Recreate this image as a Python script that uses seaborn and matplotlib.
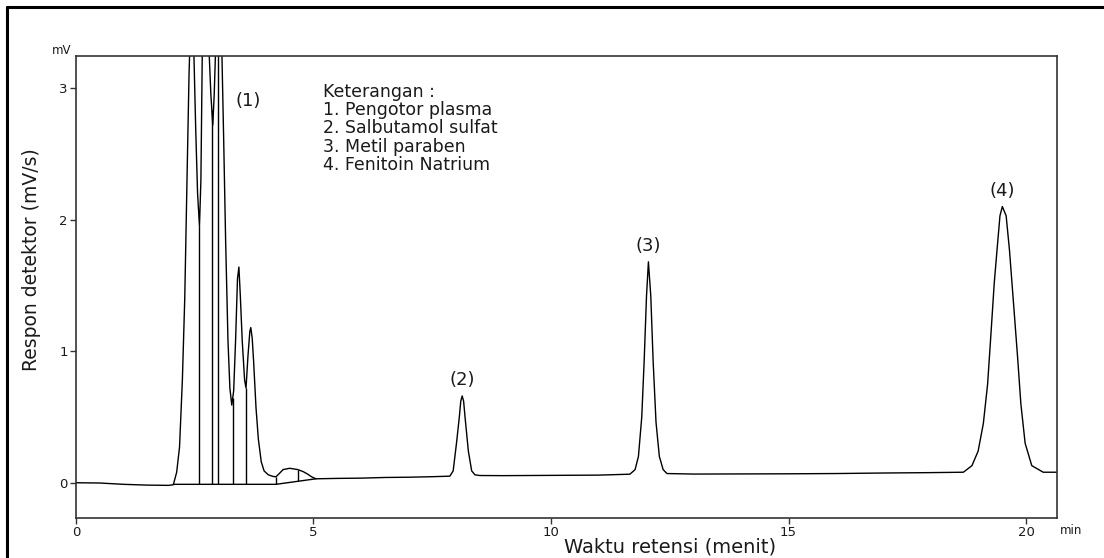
import numpy as np
import pandas as pd
import seaborn as sns
import matplotlib.pyplot as plt
from matplotlib.lines import Line2D

# chromatogram trace (time in min, detector signal in mV)
time_min = [0.0, 0.5, 1.0, 1.5, 1.95, 2.05, 2.12, 2.18, 2.24, 2.29, 2.34, 2.38,
            2.42, 2.45, 2.48, 2.52, 2.56, 2.60, 2.63, 2.66, 2.72, 2.80, 2.84, 2.88,
            2.91, 2.94, 3.00, 3.07, 3.11, 3.15, 3.20, 3.24, 3.28, 3.32, 3.36, 3.40,
            3.43, 3.46, 3.50, 3.55, 3.58, 3.62, 3.66, 3.68, 3.71, 3.74, 3.79, 3.84,
            3.90, 3.96, 4.05, 4.15, 4.21, 4.28, 4.36, 4.50, 4.67, 4.78, 4.88, 4.96,
            5.05, 5.5, 6.0, 6.5, 7.0, 7.5, 7.87, 7.94, 8.01, 8.07, 8.10, 8.13,
            8.16, 8.19, 8.26, 8.33, 8.40, 8.50, 9.0, 10.0, 11.0, 11.66, 11.77, 11.84,
            11.91, 11.96, 12.01, 12.05, 12.10, 12.15, 12.21, 12.28, 12.36, 12.44, 13.0, 14.0,
            15.0, 16.0, 17.0, 18.0, 18.68, 18.86, 18.99, 19.10, 19.19, 19.26, 19.33, 19.40,
            19.45, 19.50, 19.58, 19.65, 19.73, 19.82, 19.89, 19.98, 20.12, 20.36, 20.65]
signal_mv = [0.0, -0.002, -0.012, -0.018, -0.02, -0.015, 0.08, 0.27, 0.78, 1.40, 2.35, 3.10,
             3.60, 3.75, 3.30, 2.70, 2.20, 1.95, 2.30, 3.30, 3.70, 3.30, 2.95, 2.72,
             2.95, 3.30, 3.80, 3.30, 2.60, 1.85, 1.08, 0.72, 0.59, 0.70, 1.08, 1.55,
             1.64, 1.42, 1.08, 0.78, 0.72, 0.96, 1.15, 1.18, 1.10, 0.92, 0.57, 0.33,
             0.16, 0.09, 0.06, 0.048, 0.045, 0.07, 0.10, 0.11, 0.10, 0.085, 0.065, 0.045,
             0.03, 0.033, 0.035, 0.04, 0.042, 0.046, 0.05, 0.09, 0.30, 0.50, 0.62, 0.66,
             0.62, 0.50, 0.24, 0.09, 0.06, 0.055, 0.054, 0.056, 0.058, 0.065, 0.10, 0.20,
             0.50, 0.92, 1.42, 1.68, 1.42, 0.92, 0.46, 0.20, 0.10, 0.07, 0.066, 0.067,
             0.068, 0.070, 0.074, 0.077, 0.08, 0.13, 0.24, 0.45, 0.75, 1.13, 1.52, 1.82,
             2.03, 2.10, 2.03, 1.77, 1.39, 0.96, 0.60, 0.30, 0.13, 0.08, 0.08]

# integration marks under the plasma cluster
drop_times = [2.60, 2.86, 3.00, 3.30, 3.58, 4.21, 4.67]
base_t = [2.05, 4.21, 5.05]
base_v = [-0.012, -0.012, 0.03]

# peak labels
peak_names = ["(2)", "(3)", "(4)"]
peak_times = [8.13, 12.05, 19.50]

legend_lines = ["Keterangan :", "1. Pengotor plasma", "2. Salbutamol sulfat",
                "3. Metil paraben", "4. Fenitoin Natrium"]

df = pd.DataFrame({"time": time_min, "signal": signal_mv})

sns.set_theme(style="white")
plt.rcParams["font.family"] = ["DejaVu Sans"]
ink = "#1a1a1a"

fig = plt.figure(figsize=(11.04, 5.58), dpi=100)
ax = fig.add_axes([0.0688, 0.0717, 0.8886, 0.8280])

sns.lineplot(data=df, x="time", y="signal", ax=ax, color="black", linewidth=1.0,
             estimator=None, sort=False)

# drop lines from the integration baseline up to the trace
base_at_drop = np.interp(drop_times, base_t, base_v)
top_at_drop = np.interp(drop_times, time_min, signal_mv)
ax.vlines(drop_times, base_at_drop, top_at_drop, color="black", linewidth=1.0)
ax.plot(base_t, base_v, color="black", linewidth=1.0)

ax.set_xlim(0, 20.65)
ax.set_ylim(-0.268, 3.245)
ax.set_xticks([0, 5, 10, 15, 20])
ax.set_yticks([0, 1, 2, 3])
ax.set_xlabel("")
ax.set_ylabel("")
ax.tick_params(bottom=True, left=True, direction="out", length=4, width=1,
               pad=2, labelsize=9.5, colors="#333333", labelcolor=ink)
for s in ax.spines.values():
    s.set_color("#333333")
    s.set_linewidth(1.2)

# peak labels
ax.text(3.35, 2.90, "(1)", fontsize=13, color=ink, ha="left", va="center")
apex = np.interp(peak_times, time_min, signal_mv)
for name, t, h in zip(peak_names, peak_times, apex):
    ax.annotate(name, (t, h), xytext=(0, 5), textcoords="offset points",
                ha="center", va="bottom", fontsize=13, color=ink)

# notes block
for i, line in enumerate(legend_lines):
    ax.text(5.19, 2.973 - i * 0.1395, line, fontsize=12.5, color=ink,
            ha="left", va="center")

fig.text(62 / 1104, 1 - 50 / 558, "mV", fontsize=8.5, color=ink, ha="center", va="center")
fig.text(1071 / 1104, 1 - 530 / 558, "min", fontsize=8.5, color=ink, ha="center", va="center")
fig.text(670 / 1104, 1 - 547 / 558, "Waktu retensi (menit)", fontsize=14, color=ink,
         ha="center", va="center")
fig.text(32 / 1104, 1 - 260 / 558, "Respon detektor (mV/s)", fontsize=13.5, color=ink,
         ha="center", va="center", rotation=90)

# outer frame of the scanned figure (left and top edges)
fig.add_artist(Line2D([6.5 / 1104, 6.5 / 1104], [0, 1 - 6.5 / 558], color="black", linewidth=2.2))
fig.add_artist(Line2D([6.5 / 1104, 1], [1 - 6.5 / 558, 1 - 6.5 / 558], color="black", linewidth=2.2))

fig.savefig("out.png", dpi=100)
